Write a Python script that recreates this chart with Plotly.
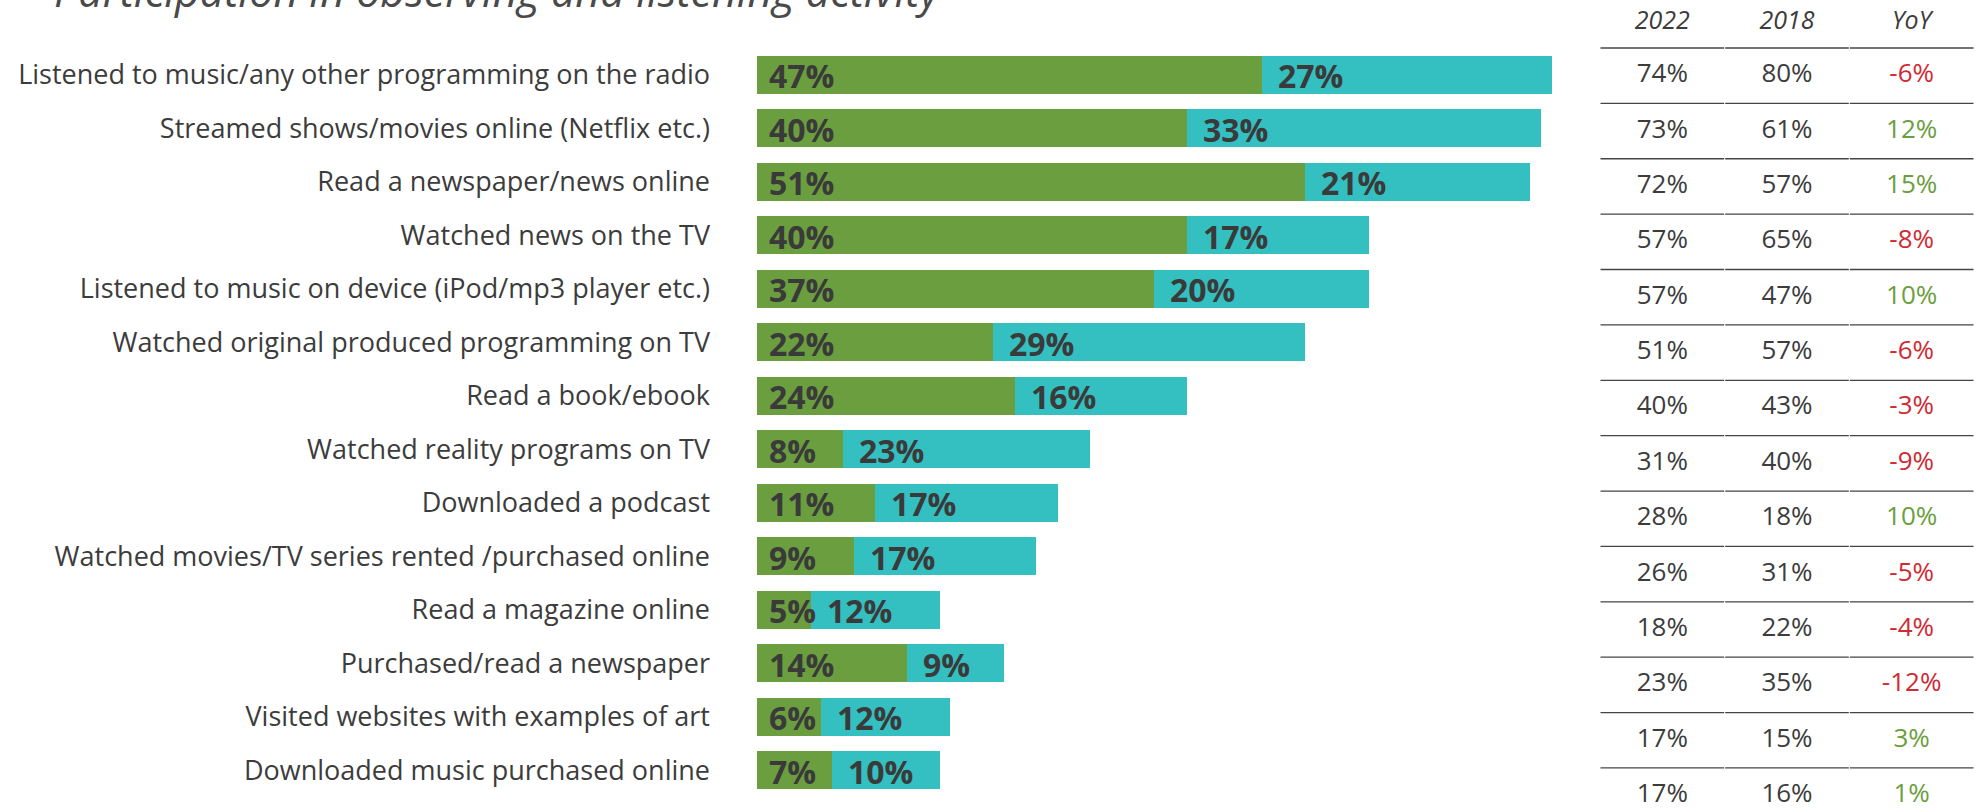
import plotly.graph_objects as go

# ---- data -------------------------------------------------------------
categories = [
    "Listened to music/any other programming on the radio",
    "Streamed shows/movies online (Netflix etc.)",
    "Read a newspaper/news online",
    "Watched news on the TV",
    "Listened to music on device (iPod/mp3 player etc.)",
    "Watched original produced programming on TV",
    "Read a book/ebook",
    "Watched reality programs on TV",
    "Downloaded a podcast",
    "Watched movies/TV series rented /purchased online",
    "Read a magazine online",
    "Purchased/read a newspaper",
    "Visited websites with examples of art",
    "Downloaded music purchased online",
]
share_first = [47, 40, 51, 40, 37, 22, 24, 8, 11, 9, 5, 14, 6, 7]
share_second = [27, 33, 21, 17, 20, 29, 16, 23, 17, 17, 12, 9, 12, 10]
total_2022 = [74, 73, 72, 57, 57, 51, 40, 31, 28, 26, 18, 23, 17, 17]
total_2018 = [80, 61, 57, 65, 47, 57, 43, 40, 18, 31, 22, 35, 15, 16]
yoy_change = [-6, 12, 15, -8, 10, -6, -3, -9, 10, -5, -4, -12, 3, 1]
table_headers = ["2022", "2018", "YoY"]
title_text = "Participation in observing and listening activity"

# ---- styling ----------------------------------------------------------
W, H = 1983, 812
GREEN = "#6b9e3e"
CYAN = "#34bfc1"
TEXT = "#3c3c3c"
RED = "#d02a33"
FONT = "Open Sans"

fig = go.Figure()

fig.add_trace(go.Bar(
    y=categories, x=share_first, orientation="h",
    marker=dict(color=GREEN, line=dict(width=0)),
    width=0.71, hoverinfo="skip", showlegend=False,
))
fig.add_trace(go.Bar(
    y=categories, x=share_second, base=share_first, orientation="h",
    marker=dict(color=CYAN, line=dict(width=0)),
    width=0.71, hoverinfo="skip", showlegend=False,
))

annotations = []
# value labels at the start of each segment
for cat, a, b in zip(categories, share_first, share_second):
    for start, val, shift in ((0, a, 10), (a, b, 14)):
        annotations.append(dict(
            x=start, y=cat, xref="x", yref="y", text=f"{val}%",
            showarrow=False, xanchor="left", yanchor="middle", xshift=shift,
            yshift=-1,
            font=dict(family=FONT, size=32, color="#3a3a3a", weight="bold"),
        ))

# ---- side table -------------------------------------------------------
n = len(categories)
col_x = [0.5, 1.5, 2.5]
row_y = [k + 0.5 for k in range(n)]

fig.add_trace(go.Scatter(
    x=col_x, y=[-0.45] * 3, xaxis="x2", yaxis="y2", mode="text",
    text=table_headers, textposition="middle center",
    textfont=dict(family=FONT, size=25, color=TEXT, style="italic"),
    hoverinfo="skip", showlegend=False,
))
fig.add_trace(go.Scatter(
    x=[col_x[0]] * n, y=row_y, xaxis="x2", yaxis="y2", mode="text",
    text=[f"{v}%" for v in total_2022], textposition="middle center",
    textfont=dict(family=FONT, size=26, color=TEXT),
    hoverinfo="skip", showlegend=False,
))
fig.add_trace(go.Scatter(
    x=[col_x[1]] * n, y=row_y, xaxis="x2", yaxis="y2", mode="text",
    text=[f"{v}%" for v in total_2018], textposition="middle center",
    textfont=dict(family=FONT, size=26, color=TEXT),
    hoverinfo="skip", showlegend=False,
))
fig.add_trace(go.Scatter(
    x=[col_x[2]] * n, y=row_y, xaxis="x2", yaxis="y2", mode="text",
    text=[f"{v}%" for v in yoy_change], textposition="middle center",
    textfont=dict(family=FONT, size=26,
                  color=[RED if v < 0 else GREEN for v in yoy_change]),
    hoverinfo="skip", showlegend=False,
))

shapes = []
for k in range(n):
    for c in range(3):
        shapes.append(dict(
            type="line", xref="x2", yref="y2",
            x0=c + 0.004, x1=c + 0.996, y0=k, y1=k,
            line=dict(color="#444444", width=1.3),
        ))

# title, partly above the top edge
annotations.append(dict(
    x=52 / W, y=1 + 9 / H, xref="paper", yref="paper", text=title_text,
    showarrow=False, xanchor="left", yanchor="middle",
    font=dict(family=FONT, size=43, color="#4a4a4a", style="italic"),
))

# ---- axes geometry ----------------------------------------------------
row_h = 53.5
first_c = 74.6
top_px = first_c - 0.5 * row_h
bot_px = first_c + (n - 0.5) * row_h
px_per_pct = 10.74
x0_px = 757
x_max = 80

t_row = 55.38
t_line0 = 48

fig.update_layout(
    width=W, height=H,
    margin=dict(l=0, r=0, t=0, b=0),
    paper_bgcolor="white", plot_bgcolor="white",
    barmode="overlay", bargap=0,
    font=dict(family=FONT, color=TEXT),
    xaxis=dict(
        domain=[x0_px / W, (x0_px + x_max * px_per_pct) / W],
        range=[0, x_max], visible=False, fixedrange=True,
    ),
    yaxis=dict(
        domain=[(H - bot_px) / H, (H - top_px) / H],
        type="category", categoryorder="array", categoryarray=categories,
        range=[n - 0.5, -0.5], showgrid=False, zeroline=False, showline=False,
        ticks="", ticklabelstandoff=46,
        tickfont=dict(family=FONT, size=27, color=TEXT),
        fixedrange=True,
    ),
    xaxis2=dict(
        domain=[1600 / W, 1974 / W], range=[0, 3], visible=False,
        anchor="y2", fixedrange=True,
    ),
    yaxis2=dict(
        domain=[0, 1], range=[(H - t_line0) / t_row, -t_line0 / t_row],
        visible=False, anchor="x2", fixedrange=True,
    ),
    annotations=annotations,
    shapes=shapes,
)

fig.write_html("out.html")
